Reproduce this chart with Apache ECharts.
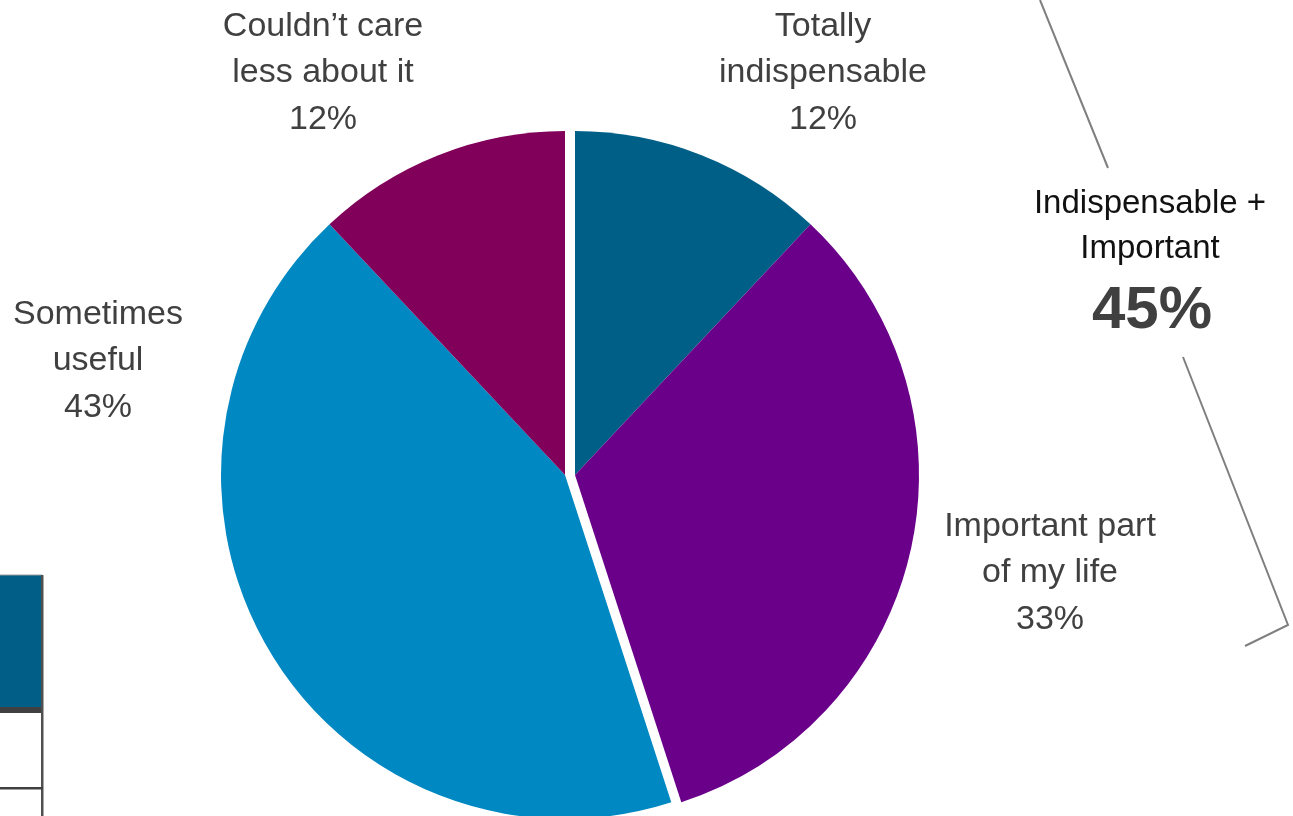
<!DOCTYPE html>
<html>
<head>
<meta charset="utf-8">
<script src="https://cdn.jsdelivr.net/npm/echarts@6/dist/echarts.min.js"></script>
<style>html,body{margin:0;padding:0;background:#fff;}#c{width:1293px;height:816px;}</style>
</head>
<body>
<div id="c"></div>
<script>
// Data
var categories = ["Totally\nindispensable", "Important part\nof my life", "Sometimes\nuseful", "Couldn\u2019t care\nless about it"];
var values = [12, 33, 43, 12];
var colors = ["#005F87", "#6A008A", "#0088C2", "#80005A"];
var groupLabel = "Indispensable +\nImportant";
var groupValue = 45;

var chart = echarts.init(document.getElementById('c'), null, {renderer: 'canvas'});
var R = 344, CY = 475;
var font = '"Liberation Sans", Arial, sans-serif';

function slice(i) {
  return {value: values[i], name: categories[i], itemStyle: {color: colors[i]}};
}
function blank(v) {
  return {value: v, name: '', itemStyle: {color: 'rgba(0,0,0,0)'}, emphasis: {disabled: true}};
}
var groupSum = values[0] + values[1];
var restSum = values[2] + values[3];

// label positions (centre x, first-line centre y)
var labelPos = [[823, 26], [1050, 526], [98, 314], [323, 26]];
var graphics = [];
categories.forEach(function (c, i) {
  graphics.push({
    type: 'text', x: labelPos[i][0], y: labelPos[i][1] - 23,
    style: {
      text: c + '\n' + values[i] + '%', fill: '#404040', font: '34px ' + font,
      lineHeight: 46.5, align: 'center', verticalAlign: 'top'
    }
  });
});

graphics.push({
  type: 'text', x: 1150, y: 181,
  style: {text: groupLabel, fill: '#111', font: '33px ' + font, lineHeight: 45.5, align: 'center', verticalAlign: 'top'}
});
graphics.push({
  type: 'text', x: 1152, y: 281,
  style: {text: groupValue + '%', fill: '#404040', font: 'bold 60px ' + font, align: 'center', verticalAlign: 'top'}
});
// bracket
graphics.push({type: 'polyline', shape: {points: [[1040, 0], [1108, 168]]}, style: {stroke: '#7f7f7f', lineWidth: 2, fill: null}});
graphics.push({type: 'polyline', shape: {points: [[1183, 357], [1288, 625], [1245, 646]]}, style: {stroke: '#7f7f7f', lineWidth: 2, fill: null}});
// table fragment at left bottom
graphics.push({type: 'rect', shape: {x: -2, y: 575, width: 44, height: 133}, style: {fill: '#015E86', stroke: '#9a9a9a', lineWidth: 1}});
graphics.push({type: 'rect', shape: {x: -2, y: 707, width: 45, height: 6}, style: {fill: '#404040'}});
graphics.push({type: 'rect', shape: {x: 41, y: 575, width: 2.5, height: 241}, style: {fill: '#505050'}});
graphics.push({type: 'rect', shape: {x: -2, y: 787, width: 45, height: 2.5}, style: {fill: '#404040'}});

chart.setOption({
  animation: false,
  backgroundColor: '#fff',
  graphic: graphics,
  series: [
    {
      type: 'pie', center: [575, CY], radius: [0, R], startAngle: 90, clockwise: true,
      label: {show: false}, labelLine: {show: false}, silent: true,
      data: [slice(0), slice(1), blank(restSum)]
    },
    {
      type: 'pie', center: [565, CY], radius: [0, R], startAngle: 90, clockwise: true,
      label: {show: false}, labelLine: {show: false}, silent: true,
      data: [blank(groupSum), slice(2), slice(3)]
    }
  ]
});
</script>
</body>
</html>
